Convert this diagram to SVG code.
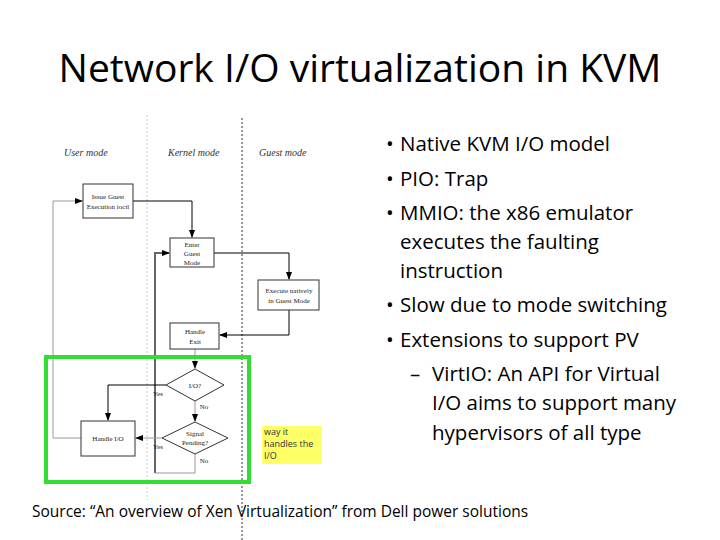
<svg xmlns="http://www.w3.org/2000/svg" width="720" height="540" viewBox="0 0 720 540">
<defs>
<marker id="a" markerWidth="8" markerHeight="8" refX="7" refY="4" orient="auto" markerUnits="userSpaceOnUse"><path d="M0,1 L8,4 L0,7 Z" fill="#000"/></marker>
<style>
.b{fill:#fff;stroke:#333;stroke-width:1}
.t{font-family:"Liberation Serif",serif;font-size:7px;fill:#222;text-anchor:middle}
.c{fill:none;stroke:#000;stroke-width:1}
.g{fill:none;stroke:#999;stroke-width:1}
.s{font-family:"Open Sans","Liberation Sans",sans-serif;font-size:20.5px;fill:#000}
.h{font-family:"Liberation Serif",serif;font-style:italic;font-size:10px;fill:#333}
</style>
</defs>
<rect width="720" height="540" fill="#fff"/>
<text x="360" y="82" text-anchor="middle" font-family="Open Sans, Liberation Sans, sans-serif" font-size="39">Network I/O virtualization in KVM</text>
<line x1="147" y1="115" x2="147" y2="500" stroke="#bbb" stroke-width="0.8" stroke-dasharray="2,2"/>
<line x1="242" y1="118" x2="242" y2="540" stroke="#333" stroke-width="1" stroke-dasharray="2,2"/>
<text class="h" x="64" y="156">User mode</text>
<text class="h" x="168" y="156">Kernel mode</text>
<text class="h" x="259" y="156">Guest mode</text>
<g id="connectors">
<path class="c" d="M133,201 H192 V237" marker-end="url(#a)"/>
<path class="g" d="M81,438 H53 V201 H82" marker-end="url(#a)"/>
<path d="M155,473 V253 H169" fill="none" stroke="#666" stroke-width="2" marker-end="url(#a)"/>
<path class="c" d="M214,253 H289 V279" marker-end="url(#a)"/>
<path class="c" d="M289,310 V335 H220" marker-end="url(#a)"/>
<path class="g" d="M195,349 V368" marker-end="url(#a)"/>
<path class="c" d="M166,385 H108 V420" marker-end="url(#a)"/>
<path class="g" d="M195,401 V421" marker-end="url(#a)"/>
<path class="g" d="M162,438 H136" marker-end="url(#a)"/>
<path class="g" d="M195,454 V473 H155"/>
</g>
<g id="issue"><rect class="b" x="83" y="184" width="50" height="34"/><text class="t" x="108" y="199">Issue Guest</text><text class="t" x="108" y="209">Execution ioctl</text></g>
<g id="enter"><rect class="b" x="170" y="238" width="44" height="29"/><text class="t" x="192" y="247">Enter</text><text class="t" x="192" y="256">Guest</text><text class="t" x="192" y="265">Mode</text></g>
<g id="execute"><rect class="b" x="258" y="280" width="61" height="30"/><text class="t" x="289" y="293">Execute natively</text><text class="t" x="289" y="303">in Guest Mode</text></g>
<g id="exit"><rect class="b" x="170" y="323" width="49" height="26"/><text class="t" x="195" y="334">Handle</text><text class="t" x="195" y="344">Exit</text></g>
<g id="io"><path class="b" d="M195,369 L224,385 L195,401 L166,385 Z"/><text class="t" x="195" y="388">I/O?</text><text class="t" x="158" y="396">Yes</text><text class="t" x="204" y="409">No</text></g>
<g id="signal"><path class="b" d="M195,422 L228,438 L195,454 L162,438 Z"/><text class="t" x="195" y="436">Signal</text><text class="t" x="195" y="445">Pending?</text><text class="t" x="158" y="449">Yes</text><text class="t" x="204" y="463">No</text></g>
<g id="handleio"><rect class="b" x="81" y="421" width="54" height="35"/><text class="t" x="108" y="441">Handle I/O</text></g>
<rect x="46" y="357" width="203" height="125" fill="none" stroke="#33dd33" stroke-width="4"/>
<g id="note"><rect x="262" y="426" width="60" height="38" fill="#ffff66"/><g font-family="Open Sans, Liberation Sans, sans-serif" font-size="9" fill="#333"><text x="264" y="435">way it</text><text x="264" y="447">handles the</text><text x="264" y="459">I/O</text></g></g>
<g class="s">
<text x="386" y="151">•</text><text x="400" y="151">Native KVM I/O model</text>
<text x="386" y="186">•</text><text x="400" y="186">PIO: Trap</text>
<text x="386" y="220">•</text><text x="400" y="220">MMIO: the x86 emulator</text>
<text x="400" y="249">executes the faulting</text>
<text x="400" y="278">instruction</text>
<text x="386" y="312">•</text><text x="400" y="312">Slow due to mode switching</text>
<text x="386" y="347">•</text><text x="400" y="347">Extensions to support PV</text>
<text x="410" y="381">–</text><text x="432" y="381">VirtIO:  An API  for Virtual</text>
<text x="432" y="410">I/O aims to support many</text>
<text x="432" y="440">hypervisors of all type</text>
</g>
<text x="32" y="517" font-family="Open Sans, Liberation Sans, sans-serif" font-size="15.5">Source: “An overview of Xen Virtualization” from Dell power solutions</text>
</svg>
